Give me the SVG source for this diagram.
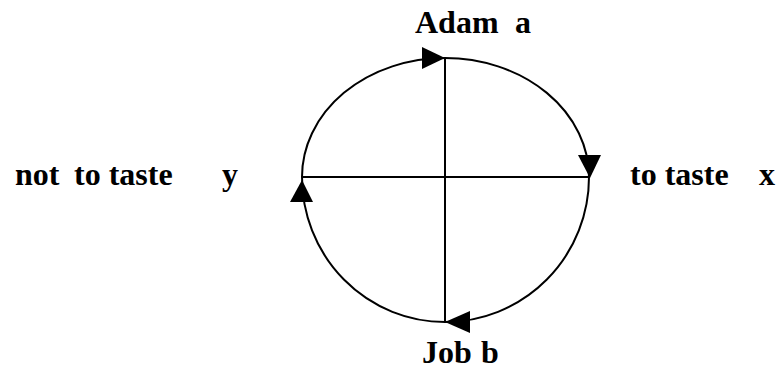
<svg xmlns="http://www.w3.org/2000/svg" width="776" height="373" viewBox="0 0 776 373">
<style>
.t{font-family:"Liberation Serif","Times New Roman",serif;font-weight:bold;font-size:32px;fill:#000}
.l{fill:none;stroke:#000;stroke-width:2}
.h{fill:#000}
</style>
<rect width="776" height="373" fill="#fff"/>
<g id="connectors">
<path class="l" d="M302,177 A143,119 0 0 1 445,58 A144,119 0 0 1 589,177 A144,145 0 0 1 445,322 A143,145 0 0 1 302,177 Z"/>
<line class="l" x1="445" y1="58" x2="445" y2="322"/>
<line class="l" x1="302" y1="177" x2="589" y2="177"/>
<polygon class="h" points="445,58 422,47 422,69"/>
<polygon class="h" points="590,178 578,155 601,155"/>
<polygon class="h" points="445,322 470,311 470,333"/>
<polygon class="h" points="302,180 290,202 313,202"/>
</g>
<g id="adam"><text class="t" x="415" y="33">Adam</text><text class="t" x="515" y="33">a</text></g>
<g id="job"><text class="t" x="422" y="363">Job</text><text class="t" x="481" y="363">b</text></g>
<g id="not-to-taste"><text class="t" x="15" y="185">not</text><text class="t" x="74" y="185">to taste</text><text class="t" x="222" y="185">y</text></g>
<g id="to-taste"><text class="t" x="630" y="185">to taste</text><text class="t" x="759" y="185">x</text></g>
</svg>
